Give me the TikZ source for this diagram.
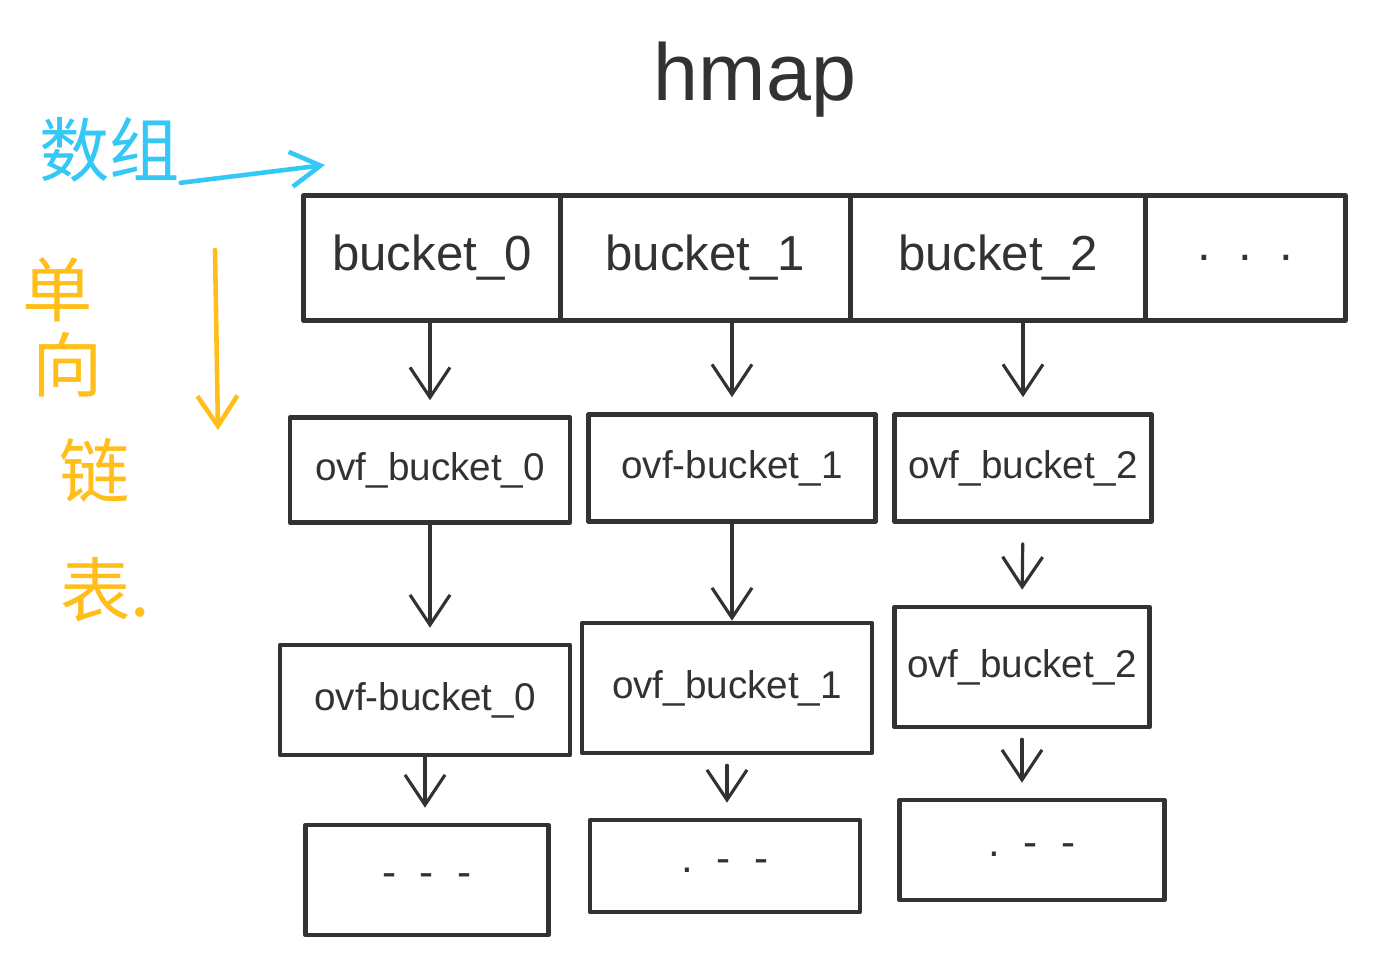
\documentclass[tikz,border=0pt]{standalone}
\usepackage{fontspec}
\setmainfont{Liberation Sans}
\newfontfamily\cjk{Noto Sans CJK SC}
\usepackage{xcolor}
\usetikzlibrary{arrows.meta,positioning}

\definecolor{ink}{RGB}{50,50,50}
\definecolor{skyblue}{RGB}{52,200,246}
\definecolor{marigold}{RGB}{255,190,26}

\begin{document}
\begin{tikzpicture}[
  x=0.02cm, y=-0.02cm,
  line cap=round, line join=round,
  cell/.style={rectangle,draw=ink,line width=2.6pt,inner sep=0pt,outer sep=0pt,minimum height=2.5cm,text=ink,font=\fontsize{28}{30}\selectfont},
  ovf/.style={rectangle,draw=ink,line width=2.6pt,inner sep=0pt,text=ink,font=\fontsize{22}{24}\selectfont},
  tail/.style={rectangle,draw=ink,line width=2.6pt,inner sep=0pt,text=ink,font=\fontsize{24}{26}\selectfont},
  arr/.style={-{Straight Barb[length=6mm,width=8mm,line width=1.8pt]},line width=1.8pt,draw=ink,shorten >=3mm},
  note/.style={text=#1,font=\cjk\fontsize{40}{42}\selectfont,inner sep=0pt}
]
\useasboundingbox (0,0) rectangle (1387,980);

% title
\node[text=ink,font=\fontsize{46}{48}\selectfont] (title) at (755,80) {hmap};

% array of buckets
\node[cell,minimum width=5.14cm] (b0) at (432,258) {bucket\_0};
\node[cell,minimum width=5.8cm,right=0pt of b0] (b1) {bucket\_1};
\node[cell,minimum width=5.9cm,right=0pt of b1] (b2) {bucket\_2};
\node[cell,minimum width=4cm,right=0pt of b2] (bdots) {.\ \ .\ \ .};

% overflow buckets
\node[ovf,minimum width=5.6cm,minimum height=2.1cm] (ob0) at (430,470) {ovf\_bucket\_0};
\node[ovf,minimum width=5.74cm,minimum height=2.14cm] (ob1) at (732,468) {ovf-bucket\_1};
\node[ovf,minimum width=5.14cm,minimum height=2.14cm] (ob2) at (1023,468) {ovf\_bucket\_2};

\node[ovf,minimum width=5.8cm,minimum height=2.2cm] (oc0) at (425,700) {ovf-bucket\_0};
\node[ovf,minimum width=5.8cm,minimum height=2.6cm] (oc1) at (727,688) {ovf\_bucket\_1};
\node[ovf,minimum width=5.1cm,minimum height=2.4cm] (oc2) at (1022,667) {ovf\_bucket\_2};

\node[tail,minimum width=4.86cm,minimum height=2.2cm] (d0) at (427,880) {-\ \ -\ \ -};
\node[tail,minimum width=5.4cm,minimum height=1.84cm] (d1) at (725,866) {.\ \ -\ \ -};
\node[tail,minimum width=5.3cm,minimum height=2cm] (d2) at (1032,850) {.\ \ -\ \ -};

\draw[arr] (b0.south -| ob0.north) -- (ob0.north);
\draw[arr] (b1.south -| ob1.north) -- (ob1.north);
\draw[arr] (ob2.north |- b2.south) -- (ob2.north);
\draw[arr] (ob0.south) -- (ob0.south |- oc0.north);
\draw[arr,shorten >=0pt] (ob1.south) -- (ob1.south |- oc1.north);
\draw[arr,shorten <=4mm] (ob2.south) -- (oc2.north);
\draw[arr] (oc0.south) -- (oc0.south |- d0.north);
\draw[arr,shorten <=2mm] (oc1.south) -- (oc1.south |- d1.north);
\draw[arr,shorten <=2mm] (oc2.south) -- (oc2.south |- d2.north);

% side notes
\node[note=skyblue] (shuzu) at (110,150) {数组};
\coordinate (shuEnd) at (325,165);
\draw[skyblue,line width=2.6pt,-{Straight Barb[length=6mm,width=7mm,line width=2.6pt]}] (shuzu.south east) -- (shuEnd);

\node[note=marigold] (dan) at (58,290) {单};
\node[note=marigold] (xiang) at (68,365) {向};
\node[note=marigold] (lian) at (95,470) {链};
\node[note=marigold] (biao) at (105,590) {表.};
\coordinate (downTop) at (215,250);
\coordinate (downEnd) at (218,430);
\draw[marigold,line width=2.6pt,-{Straight Barb[length=6mm,width=8mm,line width=2.6pt]}] (downTop) -- (downEnd);
\end{tikzpicture}
\end{document}
